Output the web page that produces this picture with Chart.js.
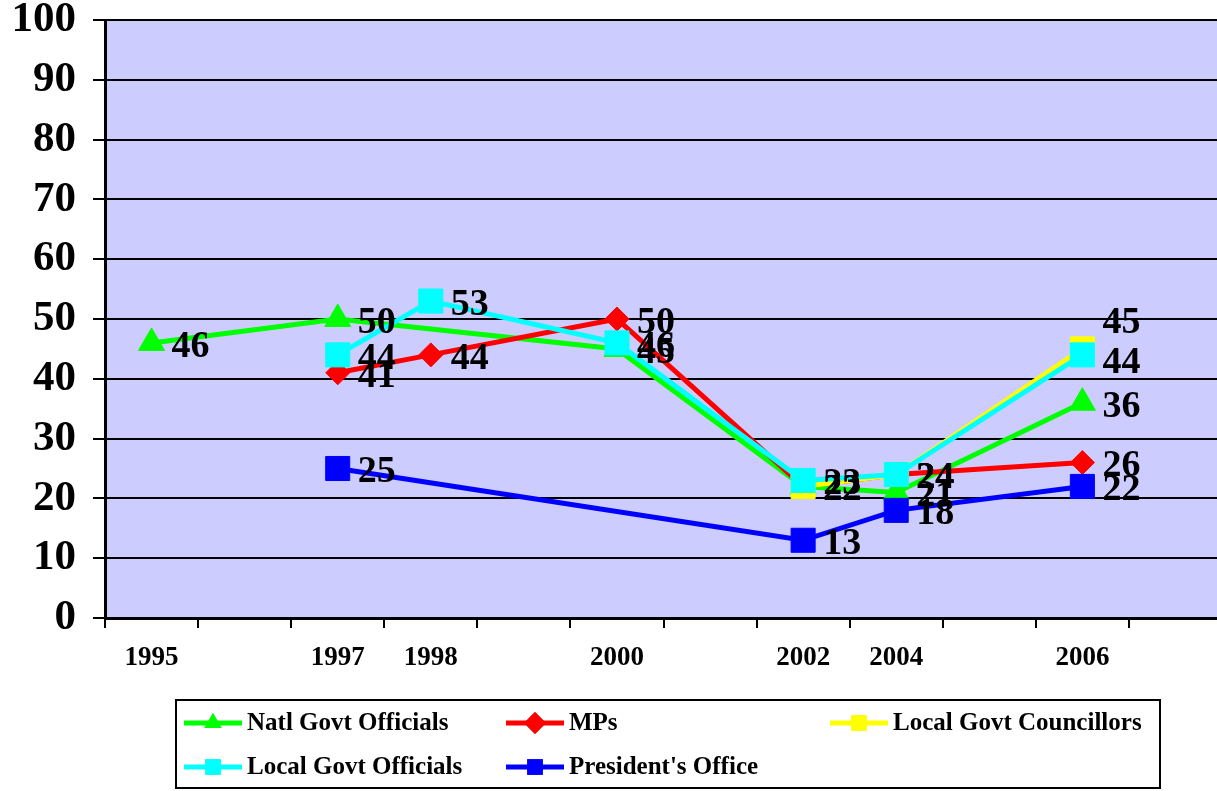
<!DOCTYPE html>
<html><head><meta charset="utf-8">
<script src="https://cdn.jsdelivr.net/npm/chart.js@4/dist/chart.umd.min.js"></script>
<style>html,body{margin:0;padding:0;background:#fff;overflow:hidden;}#wrap{width:1217px;height:791px;overflow:hidden;}</style>
</head><body><div id="wrap"><canvas id="c" width="1222" height="791"></canvas></div>
<script>
const categories = ['1995','','1997','1998','','2000','','2002','2004','','2006',''];
const natlGovtOfficials = [46,null,50,null,null,45,null,22,21,null,36,null];
const mps = [null,null,41,44,null,50,null,22,24,null,26,null];
const localGovtCouncillors = [null,null,null,null,null,null,null,22,24,null,45,null];
const localGovtOfficials = [null,null,44,53,null,46,null,23,24,null,44,null];
const presidentsOffice = [null,null,25,null,null,null,null,13,18,null,22,null];
const yTicks = [0,10,20,30,40,50,60,70,80,90,100];

const SERIF = "'Liberation Serif','Times New Roman',serif";

function ds(label, data, color, style, radius, order, labelDy){
  return {label, data, borderColor: color, backgroundColor: color, pointBackgroundColor: color,
    pointBorderColor: color, pointStyle: style, pointRadius: radius, pointHoverRadius: radius,
    pointBorderWidth: 1, borderWidth: 5, spanGaps: true, tension: 0, order, labelDy: labelDy || {}};
}

const bgPlugin = {
  id: 'bg',
  beforeDraw(chart){
    const {ctx, chartArea: a} = chart;
    ctx.save(); ctx.fillStyle = '#CCCCFF';
    ctx.fillRect(a.left, a.top, a.right - a.left, a.bottom - a.top);
    ctx.restore();
  }
};

const labelPlugin = {
  id: 'vlabels',
  afterDatasetsDraw(chart){
    const ctx = chart.ctx;
    ctx.save();
    ctx.font = "bold 38px " + SERIF;
    ctx.fillStyle = '#000';
    ctx.textBaseline = 'middle';
    ctx.textAlign = 'left';
    chart.data.datasets.forEach((d, i) => {
      const meta = chart.getDatasetMeta(i);
      meta.data.forEach((pt, j) => {
        const v = d.data[j];
        if (v === null || v === undefined) return;
        const dy = d.labelDy[j] || 0;
        ctx.fillText(String(v), pt.x + 20, pt.y + 4 + dy);
      });
    });
    ctx.restore();
  }
};

const legendPlugin = {
  id: 'customLegend',
  afterDraw(chart){
    const ctx = chart.ctx;
    ctx.save();
    ctx.strokeStyle = '#000'; ctx.lineWidth = 2;
    ctx.strokeRect(176, 700, 984, 88);
    const pos = [[184,723],[506,723],[830,723],[184,767],[506,767]];
    ctx.font = "bold 25px " + SERIF;
    ctx.textBaseline = 'middle';
    chart.data.datasets.forEach((d, i) => {
      const [x, y] = pos[i];
      ctx.strokeStyle = d.borderColor; ctx.lineWidth = 5;
      ctx.beginPath(); ctx.moveTo(x, y); ctx.lineTo(x + 58, y); ctx.stroke();
      ctx.fillStyle = d.borderColor;
      Chart.helpers.drawPoint(ctx, {pointStyle: d.pointStyle, radius: d.pointStyle === 'triangle' ? 10 : 11, rotation: 0, borderWidth: 0}, x + 29, y);
      ctx.fill();
      ctx.fillStyle = '#000';
      ctx.fillText(d.label, x + 63, y + 1);
    });
    ctx.restore();
  }
};

new Chart(document.getElementById('c'), {
  type: 'line',
  data: {
    labels: categories,
    datasets: [
      ds('Natl Govt Officials', natlGovtOfficials, '#00FF00', 'triangle', 15, 5),
      ds('MPs', mps, '#FF0000', 'rectRot', 12, 4),
      ds('Local Govt Councillors', localGovtCouncillors, '#FFFF00', 'rect', 17, 3, {10: -30}),
      ds('Local Govt Officials', localGovtOfficials, '#00FFFF', 'rect', 17, 2, {10: 4}),
      ds("President's Office", presidentsOffice, '#0000FF', 'rect', 17, 1)
    ]
  },
  options: {
    responsive: false,
    animation: false,
    layout: {autoPadding: false, padding: {top: 20, right: 0, bottom: 113, left: 0}},
    plugins: {legend: {display: false}, tooltip: {enabled: false}},
    scales: {
      x: {
        offset: true,
        grid: {offset: true, drawOnChartArea: false, drawTicks: true, tickLength: 10, color: '#000', lineWidth: 2},
        border: {color: '#000', width: 3},
        ticks: {color: '#000', font: {family: SERIF, size: 27, weight: 'bold'}, padding: 14, maxRotation: 0, autoSkip: false},
        afterFit(s){ s.height = 60; s.paddingLeft = 0; s.paddingRight = 0; }
      },
      y: {
        min: 0, max: 100,
        afterBuildTicks(s){ s.ticks = yTicks.map(v => ({value: v})); },
        grid: {color: '#000', lineWidth: 2, drawTicks: true, tickLength: 12},
        border: {color: '#000', width: 3},
        ticks: {color: '#000', font: {family: SERIF, size: 43, weight: 'bold'}, padding: 17},
        afterFit(s){ s.width = 105; s.paddingTop = 0; s.paddingBottom = 0; }
      }
    }
  },
  plugins: [bgPlugin, labelPlugin, legendPlugin]
});
</script></body></html>
